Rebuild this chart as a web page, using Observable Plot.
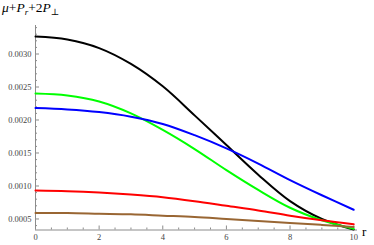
<!DOCTYPE html>
<html>
<head>
<meta charset="utf-8">
<script src="https://cdn.jsdelivr.net/npm/d3@7"></script>
<script src="https://cdn.jsdelivr.net/npm/@observablehq/plot@0.6"></script>
<style>
  html, body { margin: 0; padding: 0; background: #fff; }
  #wrap { position: relative; width: 374px; height: 245px; overflow: hidden; }
  #title { position: absolute; left: 2px; top: 0px; font-family: "Liberation Serif", "DejaVu Serif", serif; font-size: 13.5px; color: #000; white-space: nowrap; }
  #title sub { font-size: 9px; vertical-align: -3px; line-height: 0; }
  #rlab { position: absolute; left: 362px; top: 224px; font-family: "Liberation Serif", "DejaVu Serif", serif; font-size: 13px; color: #000; }
  svg { display: block; }
</style>
</head>
<body>
<div id="wrap">
  <div id="chart"></div>
  <div id="title"><i>μ</i>+<i>P</i><sub><i>r</i></sub>+2<i>P</i><sub>⊥</sub></div>
  <div id="rlab">r</div>
</div>
<script>
// radius samples
const r = [0, 1, 2, 3, 4, 5, 6, 7, 8, 9, 10];
// series values
const curve1 = [0.003265, 0.00322, 0.00309, 0.00285, 0.00251, 0.00207, 0.00162, 0.00117, 0.00077, 0.00050, 0.00034]; // black
const curve2 = [0.00240, 0.00237, 0.00228, 0.00210, 0.00185, 0.00156, 0.00124, 0.00094, 0.00067, 0.00048, 0.00035];  // green
const curve3 = [0.00218, 0.00216, 0.00212, 0.00205, 0.00194, 0.00177, 0.00157, 0.00134, 0.00109, 0.00086, 0.00064];  // blue
const curve4 = [0.00093, 0.00092, 0.00090, 0.00087, 0.00083, 0.00077, 0.00070, 0.00063, 0.00055, 0.00048, 0.00042];  // red
const curve5 = [0.00059, 0.00059, 0.00058, 0.00057, 0.00055, 0.00053, 0.00050, 0.00047, 0.00044, 0.00041, 0.00038];  // brown
const seriesNames = ["c1", "c2", "c3", "c4", "c5"];
const seriesColors = ["#000000", "#00ff00", "#0000ff", "#ff0000", "#996633"];
// ticks
const xMajor = [0, 2, 4, 6, 8, 10];
const xMinor = [0.5, 1, 1.5, 2.5, 3, 3.5, 4.5, 5, 5.5, 6.5, 7, 7.5, 8.5, 9, 9.5];
const yMajor = [0.0005, 0.0010, 0.0015, 0.0020, 0.0025, 0.0030];
const yMinor = [0.0004, 0.0006, 0.0007, 0.0008, 0.0009, 0.0011, 0.0012, 0.0013, 0.0014, 0.0016, 0.0017, 0.0018, 0.0019, 0.0021, 0.0022, 0.0023, 0.0024, 0.0026, 0.0027, 0.0028, 0.0029, 0.0031, 0.0032, 0.0033, 0.0034];

const allVals = [curve1, curve2, curve3, curve4, curve5];
const data = [];
seriesNames.forEach((s, k) => r.forEach((x, i) => data.push({series: s, r: x, v: allVals[k][i]})));

const axisGray = "#8c8c8c";
const labelGray = "#444";
const serif = "Liberation Serif, DejaVu Serif, serif";

const chart = Plot.plot({
  width: 374,
  height: 245,
  marginLeft: 35,
  marginRight: 17,
  marginTop: 25,
  marginBottom: 15.5,
  style: {fontFamily: serif, background: "#fff"},
  x: {domain: [0, 10.12], label: null},
  y: {domain: [0.000333, 0.003432], label: null},
  color: {domain: seriesNames, range: seriesColors},
  marks: [
    Plot.ruleY([0.000333], {stroke: axisGray, strokeWidth: 1}),
    Plot.ruleX([0], {stroke: axisGray, strokeWidth: 1}),
    Plot.axisX(xMajor, {tickSize: -4, fill: null, stroke: axisGray, label: null}),
    Plot.axisX(xMinor, {tickSize: -2, fill: null, stroke: axisGray, label: null}),
    Plot.axisX(xMajor, {tickSize: 0, tickPadding: 3.5, fontSize: 8.5, fill: labelGray, label: null, tickFormat: d3.format("d")}),
    Plot.axisY(yMajor, {tickSize: -4, fill: null, stroke: axisGray, label: null}),
    Plot.axisY(yMinor, {tickSize: -2, fill: null, stroke: axisGray, label: null}),
    Plot.axisY(yMajor, {tickSize: 0, tickPadding: 4, fontSize: 8.5, fill: labelGray, label: null, tickFormat: d3.format(".4f")}),
    Plot.line(data, {x: "r", y: "v", z: "series", stroke: d => d.series, strokeWidth: 2, curve: "catmull-rom"})
  ]
});
document.getElementById("chart").appendChild(chart);
</script>
</body>
</html>
